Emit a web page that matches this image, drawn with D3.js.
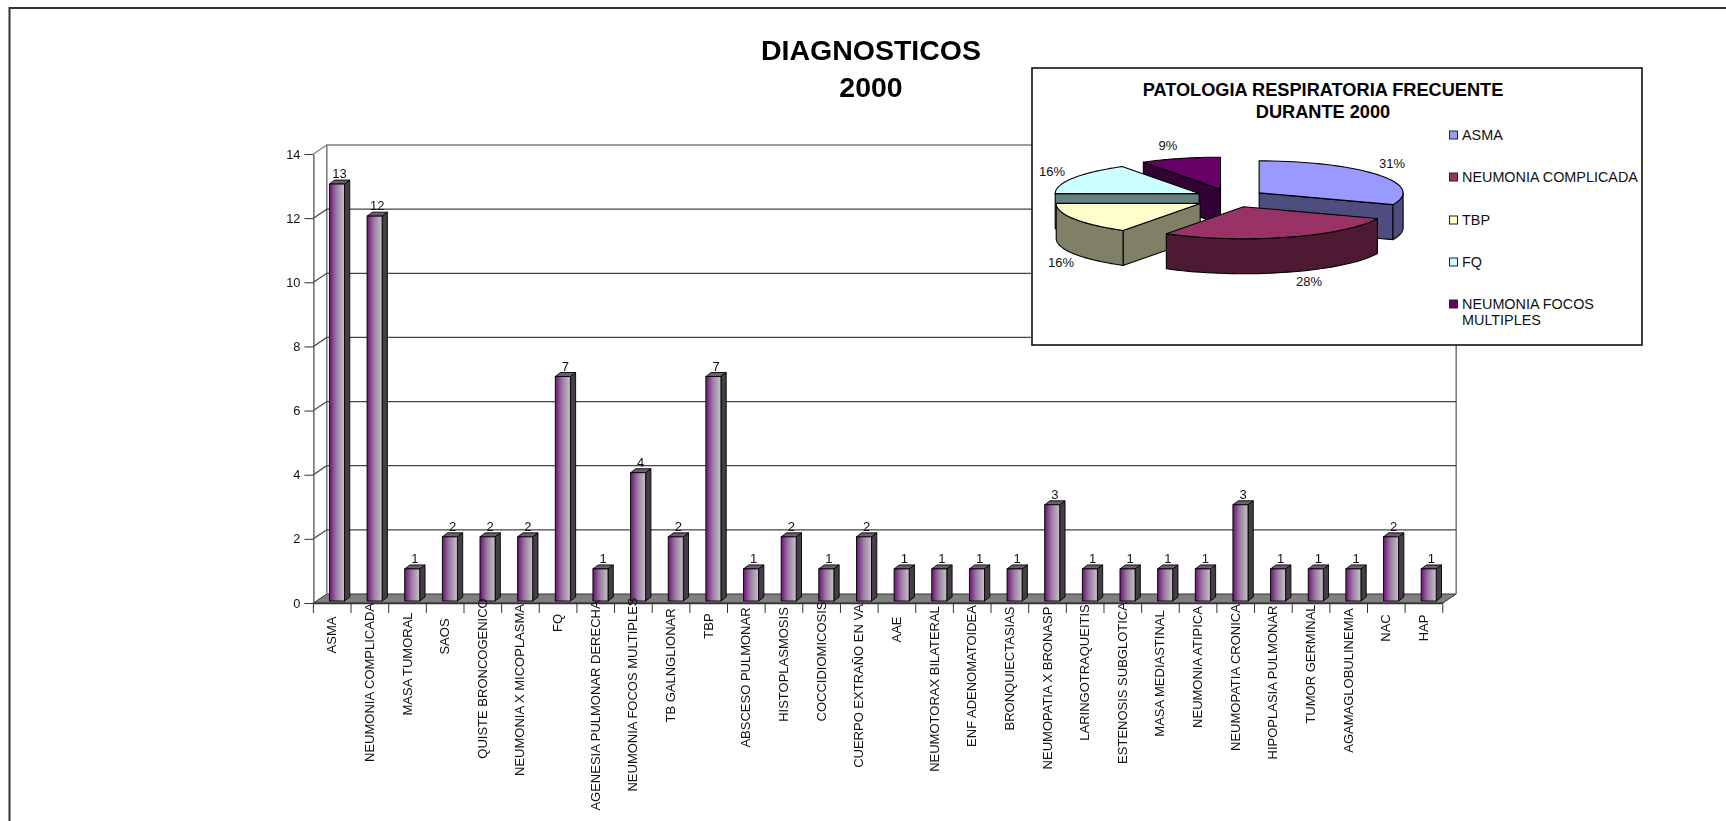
<!DOCTYPE html>
<html>
<head>
<meta charset="utf-8">
<title>Diagnosticos 2000</title>
<script src="https://cdn.jsdelivr.net/npm/d3@7"></script>
<style>
  html, body { margin: 0; padding: 0; background: #fff; overflow: hidden; }
  svg { display: block; font-family: "Liberation Sans", Arial, sans-serif; opacity: 0.999; }
</style>
</head>
<body>
<svg id="chart" width="1726" height="821"></svg>
<script>
// Diagnoses seen during the year
const categories = [
  "ASMA", "NEUMONIA COMPLICADA", "MASA TUMORAL", "SAOS", "QUISTE BRONCOGENICO",
  "NEUMONIA X MICOPLASMA", "FQ", "AGENESIA PULMONAR DERECHA", "NEUMONIA FOCOS MULTIPLES",
  "TB GALNGLIONAR", "TBP", "ABSCESO PULMONAR", "HISTOPLASMOSIS", "COCCIDIOMICOSIS",
  "CUERPO EXTRAÑO EN VA", "AAE", "NEUMOTORAX BILATERAL", "ENF ADENOMATOIDEA",
  "BRONQUIECTASIAS", "NEUMOPATIA X BRONASP", "LARINGOTRAQUEITIS", "ESTENOSIS SUBGLOTICA",
  "MASA MEDIASTINAL", "NEUMONIA ATIPICA", "NEUMOPATIA CRONICA", "HIPOPLASIA PULMONAR",
  "TUMOR GERMINAL", "AGAMAGLOBULINEMIA", "NAC", "HAP"
];
const cases = [13, 12, 1, 2, 2, 2, 7, 1, 4, 2, 7, 1, 2, 1, 2, 1, 1, 1, 1, 3, 1, 1, 1, 1, 3, 1, 1, 1, 2, 1];
const yTicks = [0, 2, 4, 6, 8, 10, 12, 14];

// Most frequent respiratory conditions
const pieNames = ["ASMA", "NEUMONIA COMPLICADA", "TBP", "FQ", "NEUMONIA FOCOS MULTIPLES"];
const piePercents = [31, 28, 16, 16, 9];

// Layout and colours
const tickLabelMid = [635, 682.5, 664, 636.5, 678.5, 690, 623, 705.5, 694.5, 665.5, 626, 677.5,
  664.5, 661.5, 686, 629.5, 689, 676, 668.5, 688, 672.5, 683, 673.5, 667, 677.5, 682.5, 664,
  680.5, 628, 628];
const pieTop = ["#9999ff", "#993366", "#ffffcc", "#ccffff", "#660066"];
const pieSide = ["#4d4d80", "#4d1933", "#808066", "#668080", "#330033"];
const pieNudge = [[2, 0], [4, 0], [1, 1], [0, 0], [1, 0]];
const pieLabelPos = [[1392, 163], [1309, 281], [1061, 262], [1052, 171], [1168, 145]];
const legendY = [135, 177, 220, 262, 304];

const svg = d3.select("#chart");

// Sheet border: top and left edges only
svg.append("path").attr("d", "M9.5,821V8H1726").attr("fill", "none").attr("stroke", "#333").attr("stroke-width", 2);

// Main title
const title = svg.append("g").attr("text-anchor", "middle").attr("font-weight", "bold").attr("font-size", 28.5).attr("fill", "#000");
title.append("text").attr("x", 871).attr("y", 60).text("DIAGNOSTICOS");
title.append("text").attr("x", 871).attr("y", 97).text("2000");

// Scales: front plane of the 3D box, the back wall sits up and to the right of it
const left = 313.4, right = 1442.8, depthX = 13.4, depthY = 9;
const y = d3.scaleLinear().domain([0, 14]).range([603, 154]);
const x = d3.scaleBand().domain(categories).range([left, right]).paddingInner(0.6).paddingOuter(0.3);
const edge = d3.scaleLinear().domain([0, categories.length]).range([left, right]);

// Walls and floor
const box = svg.append("g");
box.append("path")
  .attr("d", `M${left},${y(0)}L${left + depthX},${y(0) - depthY}H${right + depthX}L${right},${y(0)}Z`)
  .attr("fill", "#808080").attr("stroke", "#333").attr("stroke-width", 1);
box.append("path")
  .attr("d", `M${left + depthX},${y(0) - depthY}V${y(14) - depthY}H${right + depthX}V${y(0) - depthY}`)
  .attr("fill", "none").attr("stroke", "#808080").attr("stroke-width", 1.6);
box.selectAll("path.grid").data(yTicks.filter(v => v > 0 && v < 14)).join("path")
  .attr("class", "grid")
  .attr("d", v => `M${left},${y(v)}L${left + depthX},${y(v) - depthY}H${right + depthX}`)
  .attr("fill", "none").attr("stroke", "#444").attr("stroke-width", 1.2);
box.append("path")
  .attr("d", `M${left},${y(14)}L${left + depthX},${y(14) - depthY}`)
  .attr("fill", "none").attr("stroke", "#808080").attr("stroke-width", 1.2);

// Value axis
const yAxis = svg.append("g").attr("transform", `translate(${left},0)`)
  .call(d3.axisLeft(y).tickValues(yTicks).tickSize(9).tickPadding(4).tickSizeOuter(0));
yAxis.select(".domain").attr("stroke", "#444").attr("stroke-width", 1.2);
yAxis.selectAll(".tick line").attr("stroke", "#333");
yAxis.selectAll(".tick text").attr("font-size", 12.8).attr("font-family", "inherit").attr("fill", "#111");

// Category axis: ticks on the band edges, rotated labels
const ticks = svg.append("g");
ticks.selectAll("line").data(d3.range(categories.length + 1)).join("line")
  .attr("x1", d => edge(d)).attr("x2", d => edge(d))
  .attr("y1", y(0)).attr("y2", y(0) + 10)
  .attr("stroke", "#333").attr("stroke-width", 1);
ticks.append("line").attr("x1", left).attr("x2", right).attr("y1", y(0) + 0.5).attr("y2", y(0) + 0.5)
  .attr("stroke", "#333").attr("stroke-width", 1.5);

// Bars with a horizontal sheen
const defs = svg.append("defs");
const grad = defs.append("linearGradient").attr("id", "barFace");
grad.append("stop").attr("offset", "0%").attr("stop-color", "#6d1075");
grad.append("stop").attr("offset", "45%").attr("stop-color", "#9a7aa2");
grad.append("stop").attr("offset", "100%").attr("stop-color", "#c6c4c6");

const shiftX = 4.7, baseShift = -2, barDX = 5.3, barDY = 4;
const bars = svg.append("g").attr("transform", `translate(${shiftX},${baseShift})`);
const bar = bars.selectAll("g").data(categories.map((c, i) => ({ c, v: cases[i] }))).join("g");
bar.append("path") // right side
  .attr("d", d => {
    const x1 = x(d.c) + x.bandwidth();
    return `M${x1},${y(d.v)}l${barDX},${-barDY}V${y(0) - barDY}l${-barDX},${barDY}Z`;
  })
  .attr("fill", "#463e46").attr("stroke", "#000").attr("stroke-width", 0.9);
bar.append("path") // top
  .attr("d", d => `M${x(d.c)},${y(d.v)}l${barDX},${-barDY}h${x.bandwidth()}l${-barDX},${barDY}Z`)
  .attr("fill", "#6f5c72").attr("stroke", "#000").attr("stroke-width", 0.9);
bar.append("rect") // front
  .attr("x", d => x(d.c)).attr("y", d => y(d.v))
  .attr("width", x.bandwidth()).attr("height", d => y(0) - y(d.v))
  .attr("fill", "url(#barFace)").attr("stroke", "#000").attr("stroke-width", 0.9);
bar.append("text")
  .attr("x", d => x(d.c) + x.bandwidth() / 2 + barDX / 2)
  .attr("y", d => y(d.v) - barDY - 2)
  .attr("text-anchor", "middle").attr("font-size", 13).attr("fill", "#111")
  .text(d => d.v);

// Rotated category labels
svg.append("g").selectAll("text").data(categories).join("text")
  .attr("transform", (d, i) => `translate(${edge(i + 0.5) + 4},${tickLabelMid[i]}) rotate(-90)`)
  .attr("text-anchor", "middle").attr("font-size", 13).attr("fill", "#111")
  .text(d => d);

// Inset panel with the exploded pie
const panel = svg.append("g");
panel.append("rect").attr("x", 1032).attr("y", 68).attr("width", 610).attr("height", 277)
  .attr("fill", "#fff").attr("stroke", "#111").attr("stroke-width", 1.6);
const panelTitle = panel.append("g").attr("text-anchor", "middle").attr("font-weight", "bold").attr("font-size", 18.2).attr("fill", "#000");
panelTitle.append("text").attr("x", 1323).attr("y", 96).text("PATOLOGIA RESPIRATORIA FRECUENTE");
panelTitle.append("text").attr("x", 1323).attr("y", 118).text("DURANTE 2000");

const rx = 144, ry = 32, wall = 35, cx = 1229, cy = 198, burst = 34, burstY = 0.27;
const slices = d3.pie().sort(null)(piePercents).map((s, i) => {
  const mid = (s.startAngle + s.endAngle) / 2;
  return {
    ...s, i,
    ax: cx + burst * Math.sin(mid) + pieNudge[i][0],
    ay: cy - burst * burstY * Math.cos(mid) + pieNudge[i][1]
  };
});
const rim = (s, a) => [s.ax + rx * Math.sin(a), s.ay - ry * Math.cos(a)];
const line = d3.line();
const sweep = (a0, a1) => d3.range(0, 41).map(k => a0 + (a1 - a0) * k / 40);

function drawSlice(s) {
  const g = panel.append("g").attr("stroke", "#000").attr("stroke-width", 1.1).attr("stroke-linejoin", "round");
  const apex = [s.ax, s.ay];
  const quad = a => {
    const p = rim(s, a);
    return line([apex, p, [p[0], p[1] + wall], [apex[0], apex[1] + wall]]) + "Z";
  };
  // radial cut faces turned towards the viewer
  if (s.startAngle > Math.PI) g.append("path").attr("d", quad(s.startAngle)).attr("fill", pieSide[s.i]);
  if (s.endAngle < Math.PI) g.append("path").attr("d", quad(s.endAngle)).attr("fill", pieSide[s.i]);
  // outer rim, front half only
  const a0 = Math.max(s.startAngle, Math.PI / 2), a1 = Math.min(s.endAngle, 3 * Math.PI / 2);
  if (a1 > a0) {
    const upper = sweep(a0, a1).map(a => rim(s, a));
    const lower = upper.slice().reverse().map(p => [p[0], p[1] + wall]);
    g.append("path").attr("d", line(upper.concat(lower)) + "Z").attr("fill", pieSide[s.i]);
  }
  // top face
  g.append("path").attr("d", line([apex].concat(sweep(s.startAngle, s.endAngle).map(a => rim(s, a)))) + "Z")
    .attr("fill", pieTop[s.i]);
}
[4, 3, 0, 2, 1].forEach(i => drawSlice(slices[i]));

panel.append("g").selectAll("text").data(piePercents).join("text")
  .attr("x", (d, i) => pieLabelPos[i][0]).attr("y", (d, i) => pieLabelPos[i][1] + 4.5)
  .attr("text-anchor", "middle").attr("font-size", 13).attr("fill", "#111")
  .text(d => d + "%");

// Legend
const legend = panel.append("g").selectAll("g").data(pieNames).join("g");
legend.append("rect")
  .attr("x", 1449.5).attr("y", (d, i) => legendY[i] - 4).attr("width", 8).attr("height", 8)
  .attr("fill", (d, i) => pieTop[i]).attr("stroke", "#222").attr("stroke-width", 1);
legend.append("text")
  .attr("x", 1462).attr("font-size", 14.4).attr("fill", "#111")
  .attr("y", (d, i) => legendY[i] + 5)
  .each(function (d, i) {
    const t = d3.select(this);
    if (d === "NEUMONIA FOCOS MULTIPLES") {
      t.append("tspan").attr("x", 1462).text("NEUMONIA FOCOS");
      t.append("tspan").attr("x", 1462).attr("dy", 16).text("MULTIPLES");
    } else {
      t.text(d);
    }
  });
</script>
</body>
</html>
